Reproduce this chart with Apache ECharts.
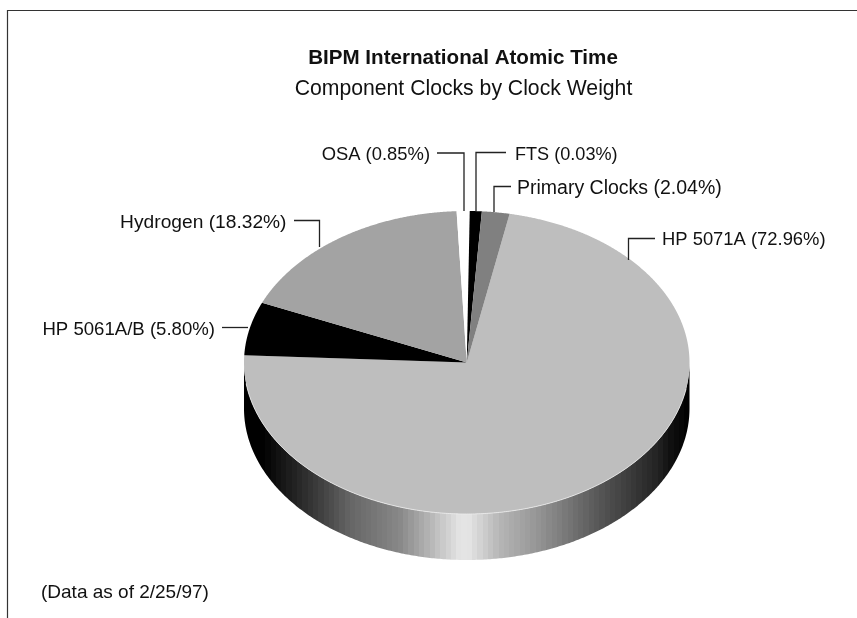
<!DOCTYPE html>
<html>
<head>
<meta charset="utf-8">
<style>html,body{margin:0;padding:0;background:#fff}#c{width:857px;height:618px}</style>
<script src="https://cdn.jsdelivr.net/npm/echarts@6/dist/echarts.min.js"></script>
</head>
<body>
<div id="c"></div>
<script>
// clockwise from the first wedge
const categories = ['HP 5071A', 'HP 5061A/B', 'Hydrogen', 'OSA', 'FTS', 'Primary Clocks'];
const labelPercents = ['72.96', '5.80', '18.32', '0.85', '0.03', '2.04'];
// wedge sizes as drawn in the picture (FTS is drawn wider than its label)
const drawnShares = [72.67, 5.69, 17.83, 0.94, 0.87, 2.00];
const sliceColors = ['#bebebe', '#000000', '#a3a3a3', '#ffffff', '#000000', '#808080'];

const FONT = '"Liberation Sans", Arial, sans-serif';
const G = {cx: 466.75, cy: 362.5, rx: 222.75, ry: 151.5, depth: 46, startDeg: 11.1};

// text anchor, font size and leader polyline per category
const labelLayout = [
  {x: 662, y: 240, size: 18.4, align: 'left',  line: [[655,238.5],[628.5,238.5],[628.5,260]]},
  {x: 215, y: 330, size: 18.6, align: 'right', line: [[222,327.5],[248,327.5]]},
  {x: 286.5, y: 223, size: 19.2, align: 'right', line: [[294,220.5],[319.5,220.5],[319.5,247]]},
  {x: 430, y: 155, size: 18.4, align: 'right', line: [[437,153],[464,153],[464,211]]},
  {x: 515, y: 155, size: 18.1, align: 'left',  line: [[506,152.5],[476,152.5],[476,212]]},
  {x: 517, y: 189, size: 19.5, align: 'left',  line: [[511,186.5],[494,186.5],[494,212]]}
];

// wall shade: [x position across the pie 0..1, grey level]
const wallShade = [[0,0],[0.04,0],[0.125,40],[0.18,68],[0.24,102],[0.35,136],[0.425,187],[0.485,228],[0.505,228],
  [0.575,181],[0.65,153],[0.725,119],[0.80,85],[0.87,58],[0.93,34],[0.955,17],[1,0]];
const BAND = 5.35;

function shadeAt(u) {
  for (let i = 1; i < wallShade.length; i++) {
    if (u <= wallShade[i][0]) {
      const a = wallShade[i - 1], b = wallShade[i];
      return a[1] + (b[1] - a[1]) * (u - a[0]) / (b[0] - a[0]);
    }
  }
  return 0;
}
function wallGradient() {
  const stops = [];
  const w = G.rx * 2;
  const n = Math.ceil(w / BAND);
  for (let i = 0; i < n; i++) {
    const a = i / n, b = (i + 1) / n;
    const g = Math.round(shadeAt((a + b) / 2));
    const c = 'rgb(' + g + ',' + g + ',' + g + ')';
    stops.push({offset: a, color: c}, {offset: b, color: c});
  }
  return {type: 'linear', x: 0, y: 0, x2: 1, y2: 0, colorStops: stops};
}
function pt(deg, dy) {
  const t = deg * Math.PI / 180;
  return [G.cx + G.rx * Math.sin(t), G.cy - G.ry * Math.cos(t) + (dy || 0)];
}

let acc = G.startDeg;
const sliceRows = drawnShares.map(s => {
  const a = acc; acc += s * 3.6;
  return [a, acc];
});

const option = {
  animation: false,
  backgroundColor: '#ffffff',
  title: [
    {text: 'BIPM International Atomic Time', left: 458, top: 43, textAlign: 'center',
     textStyle: {fontFamily: FONT, fontSize: 20.6, fontWeight: 'bold', color: '#111'}},
    {text: 'Component Clocks by Clock Weight', left: 458.5, top: 74, textAlign: 'center',
     textStyle: {fontFamily: FONT, fontSize: 21.2, fontWeight: 'normal', color: '#111'}}
  ],
  graphic: [
    {type: 'polyline', silent: true, shape: {points: [[7.5, 618], [7.5, 10.5], [857, 10.5]]},
     style: {stroke: '#333', lineWidth: 1.2, fill: null}},
    {type: 'text', silent: true, x: 41, y: 593,
     style: {text: '(Data as of 2/25/97)', font: '19px ' + FONT, fill: '#111', textVerticalAlign: 'middle'}}
  ],
  series: [
    { // side wall
      type: 'custom', coordinateSystem: 'none', silent: true, z: 1,
      data: [[90, 270]],
      renderItem: function (params, api) {
        const pts = [];
        for (let d = 90; d <= 270; d += 0.5) pts.push(pt(d, 0));
        for (let d = 270; d >= 90; d -= 0.5) pts.push(pt(d, G.depth));
        return {type: 'polygon', shape: {points: pts}, style: {fill: wallGradient()}};
      }
    },
    { // top face, leaders and labels
      type: 'custom', coordinateSystem: 'none', silent: true, z: 2,
      data: sliceRows,
      renderItem: function (params, api) {
        const i = params.dataIndex;
        const a = api.value(0), b = api.value(1);
        const pts = [[G.cx, G.cy]];
        for (let d = a; d < b; d += 0.25) pts.push(pt(d));
        pts.push(pt(b));
        const L = labelLayout[i];
        return {type: 'group', children: [
          {type: 'polygon', shape: {points: pts}, z2: 1,
           style: {fill: sliceColors[i]}},
          {type: 'polyline', shape: {points: L.line}, z2: 2,
           style: {stroke: '#222', lineWidth: 1.3, fill: null}},
          {type: 'text', x: L.x, y: L.y, z2: 3,
           style: {text: categories[i] + ' (' + labelPercents[i] + '%)',
                   font: L.size + 'px ' + FONT, fill: '#111',
                   textAlign: L.align, textVerticalAlign: 'middle'}}
        ]};
      }
    },
    { // pale rim on the front edge
      type: 'custom', coordinateSystem: 'none', silent: true, z: 3,
      data: [[100, 262]],
      renderItem: function (params, api) {
        const pts = [];
        for (let d = api.value(0); d <= api.value(1); d += 0.5) pts.push(pt(d));
        return {type: 'polyline', shape: {points: pts},
                style: {stroke: '#ececec', lineWidth: 0.8, fill: null}};
      }
    }
  ]
};
echarts.init(document.getElementById('c'), null, {renderer: 'canvas'}).setOption(option);
</script>
</body>
</html>
